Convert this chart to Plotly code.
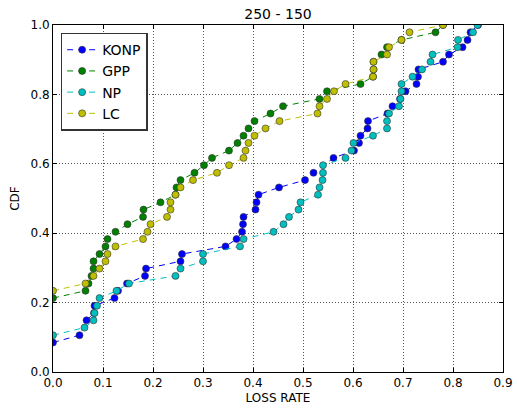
import plotly.graph_objects as go

title_text = "250 - 150"
x_label = "LOSS RATE"
y_label = "CDF"
series_names = ["KONP", "GPP", "NP", "LC"]

konp_x = [0.0, 0.053, 0.067, 0.082, 0.083, 0.123, 0.13, 0.148, 0.184, 0.186, 0.255, 0.258,
          0.345, 0.367, 0.378, 0.38, 0.381, 0.405, 0.407, 0.411, 0.452, 0.504, 0.521, 0.561,
          0.602, 0.612, 0.615, 0.629, 0.63, 0.669, 0.679, 0.694, 0.705, 0.727, 0.73, 0.731,
          0.78, 0.792, 0.819, 0.829, 0.835, 0.85]
konp_y = [0.085, 0.106, 0.149, 0.170, 0.191, 0.213, 0.234, 0.255, 0.277, 0.298, 0.319, 0.340,
          0.362, 0.383, 0.404, 0.426, 0.447, 0.468, 0.489, 0.511, 0.532, 0.553, 0.574, 0.617,
          0.638, 0.660, 0.681, 0.702, 0.723, 0.745, 0.766, 0.787, 0.809, 0.830, 0.851, 0.872,
          0.894, 0.915, 0.936, 0.957, 0.979, 1.0]

gpp_x = [0.0, 0.065, 0.071, 0.077, 0.081, 0.081, 0.093, 0.105, 0.109, 0.125, 0.149, 0.18,
         0.181, 0.215, 0.245, 0.247, 0.255, 0.283, 0.302, 0.318, 0.352, 0.369, 0.381, 0.391,
         0.403, 0.435, 0.46, 0.533, 0.548, 0.615, 0.64, 0.641, 0.641, 0.657, 0.668, 0.697,
         0.765, 0.78]
gpp_y = [0.213, 0.234, 0.255, 0.277, 0.298, 0.319, 0.340, 0.362, 0.383, 0.404, 0.426, 0.447,
         0.468, 0.489, 0.511, 0.532, 0.553, 0.574, 0.596, 0.617, 0.638, 0.660, 0.681, 0.702,
         0.723, 0.745, 0.766, 0.787, 0.809, 0.830, 0.851, 0.872, 0.894, 0.915, 0.936, 0.957,
         0.979, 1.0]

np_x = [0.0, 0.063, 0.081, 0.083, 0.088, 0.093, 0.127, 0.152, 0.245, 0.255, 0.30, 0.30,
        0.374, 0.381, 0.441, 0.461, 0.472, 0.491, 0.495, 0.53, 0.533, 0.539, 0.54, 0.54,
        0.585, 0.597, 0.601, 0.64, 0.668, 0.668, 0.672, 0.692, 0.695, 0.697, 0.697, 0.719,
        0.738, 0.755, 0.759, 0.809, 0.81, 0.84, 0.849]
np_y = [0.106, 0.128, 0.149, 0.170, 0.191, 0.213, 0.234, 0.255, 0.277, 0.298, 0.319, 0.340,
        0.362, 0.383, 0.404, 0.426, 0.447, 0.468, 0.489, 0.511, 0.532, 0.553, 0.574, 0.596,
        0.617, 0.638, 0.660, 0.681, 0.702, 0.723, 0.745, 0.766, 0.787, 0.809, 0.830, 0.851,
        0.872, 0.894, 0.915, 0.936, 0.957, 0.979, 1.0]

lc_x = [0.0, 0.065, 0.081, 0.093, 0.105, 0.109, 0.125, 0.18, 0.189, 0.195, 0.228, 0.235,
        0.235, 0.245, 0.255, 0.28, 0.328, 0.352, 0.381, 0.385, 0.391, 0.403, 0.425, 0.453,
        0.529, 0.533, 0.548, 0.562, 0.585, 0.64, 0.641, 0.641, 0.668, 0.672, 0.697, 0.713,
        0.78]
lc_y = [0.234, 0.255, 0.277, 0.298, 0.319, 0.340, 0.362, 0.383, 0.404, 0.426, 0.447, 0.468,
        0.489, 0.511, 0.532, 0.553, 0.574, 0.596, 0.617, 0.638, 0.660, 0.681, 0.702, 0.723,
        0.745, 0.766, 0.787, 0.809, 0.830, 0.851, 0.872, 0.894, 0.915, 0.936, 0.957, 0.979,
        1.0]

x_ticks = [0.0, 0.1, 0.2, 0.3, 0.4, 0.5, 0.6, 0.7, 0.8, 0.9]
x_tick_labels = ["0.0", "0.1", "0.2", "0.3", "0.4", "0.5", "0.6", "0.7", "0.8", "0.9"]
y_ticks = [0.0, 0.2, 0.4, 0.6, 0.8, 1.0]
y_tick_labels = ["0.0", "0.2", "0.4", "0.6", "0.8", "1.0"]

colors = ["#0000ff", "#008000", "#00bfbf", "#bfbf00"]
FONT = "DejaVu Sans"

fig = go.Figure()
for name, xs, ys, c in zip(series_names,
                           [konp_x, gpp_x, np_x, lc_x],
                           [konp_y, gpp_y, np_y, lc_y],
                           colors):
    fig.add_trace(go.Scatter(
        x=xs, y=ys, name=name, mode="lines+markers",
        line=dict(color=c, width=1, dash="6px,5px"),
        marker=dict(color=c, size=7, line=dict(color="#333333", width=0.6)),
    ))

axis_common = dict(
    showline=True, linecolor="black", linewidth=1, mirror="ticks",
    ticks="inside", ticklen=4, tickcolor="black",
    showgrid=True, gridcolor="#555555", gridwidth=1, griddash="1px,2px",
    zeroline=False, automargin=False,
    tickfont=dict(family=FONT, size=12, color="black"),
)

fig.update_layout(
    width=519, height=411,
    margin=dict(l=53, r=16, t=25, b=39, autoexpand=False),
    paper_bgcolor="white", plot_bgcolor="white",
    font=dict(family=FONT, color="black"),
    title=dict(text=title_text, x=0.5, xanchor="center", y=1 - 14 / 411, yanchor="middle",
               xref="paper", font=dict(family=FONT, size=14, color="black")),
    showlegend=True,
    legend=dict(x=0.017, y=0.978, xanchor="left", yanchor="top",
                bgcolor="white", bordercolor="#333333", borderwidth=1.5,
                font=dict(family=FONT, size=14, color="black"),
                itemwidth=30, tracegroupgap=0),
    xaxis=dict(range=[0, 0.9], tickvals=x_ticks, ticktext=x_tick_labels,
               title=dict(text=x_label, font=dict(family=FONT, size=12), standoff=4),
               **axis_common),
    yaxis=dict(range=[0, 1.0], tickvals=y_ticks, ticktext=y_tick_labels,
               title=dict(text=y_label, font=dict(family=FONT, size=12), standoff=8),
               **axis_common),
)

fig.write_html("out.html",
               config={"displayModeBar": False},
               post_script="document.body.style.margin='0px';document.body.style.overflow='hidden';")
